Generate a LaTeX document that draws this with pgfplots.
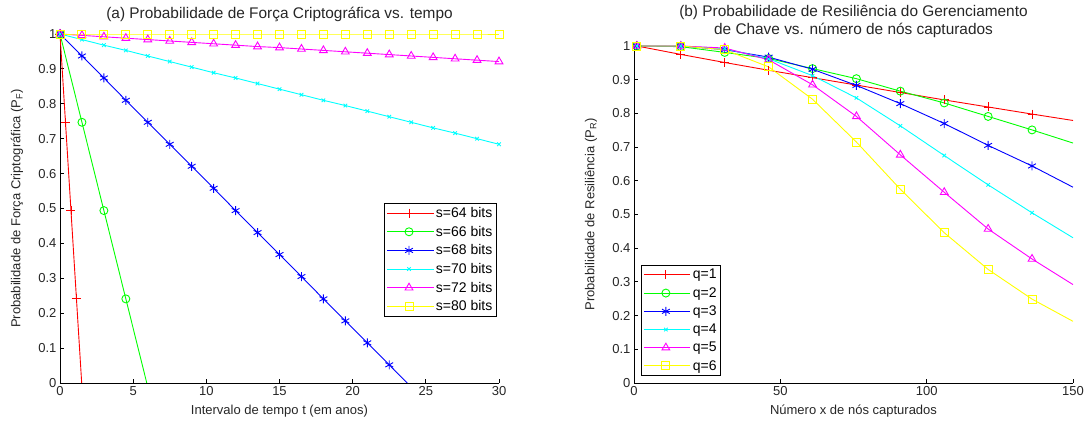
\documentclass[border=0pt]{standalone}
\usepackage{fontspec}
\setmainfont{Liberation Sans}
\usepackage{pgfplots}
\pgfplotsset{compat=1.18}

\definecolor{mred}{rgb}{1,0,0}
\definecolor{mgreen}{rgb}{0,1,0}
\definecolor{mblue}{rgb}{0,0,1}
\definecolor{mcyan}{rgb}{0,1,1}
\definecolor{mmag}{rgb}{1,0,1}
\definecolor{myel}{rgb}{1,1,0}

\pgfplotsset{
  mlab/.style={
    scale only axis,
    axis lines*=left,
    axis line style={black,line width=0.8pt},
    tick align=inside,
    major tick length=4pt,
    tick style={black,line width=0.8pt},
    ymin=0, ymax=1,
    ytick={0,0.1,0.2,0.3,0.4,0.5,0.6,0.7,0.8,0.9,1},
    /pgf/number format/assume math mode=true,
    /pgf/number format/fixed,
    tick label style={font=\fontsize{13}{15}\selectfont, color=black!85},
    label style={font=\fontsize{13}{15}\selectfont, color=black!85},
    every axis plot/.append style={line width=0.9pt},
    legend cell align=left,
    legend style={draw=black, fill=white, line width=0.8pt,
      font=\fontsize{14}{16}\selectfont, inner sep=2pt,
      row sep=3pt},
    legend image code/.code={
      \draw[#1, mark=none] (0pt,0pt) -- (39pt,0pt);
      \draw[#1] plot coordinates {(19.5pt,0pt)};
      \path (-2.5pt,0pt) -- (44pt,0pt);},
  },
}

\begin{document}
\begin{tikzpicture}
\useasboundingbox (0pt,0pt) rectangle (1088pt,423pt);

% (a)
\begin{axis}[mlab,
  at={(60pt,40pt)}, anchor=south west,
  width=439pt, height=349pt,
  xmin=0, xmax=30,
  xtick={0,5,10,15,20,25,30},
  xlabel={Intervalo de tempo t (em anos)},
  xlabel style={at={(axis description cs:0.5,-0.080)}, anchor=center},
  ylabel={Probabilidade de Força Criptográfica (P\textsubscript{F})},
  ylabel style={at={(axis description cs:-0.098,0.5)}, anchor=center},
  legend style={at={(0.995,0.516)}, anchor=north east},
]
\addplot[mred, mark=+, mark size=4.5pt, mark indices={1,2,3,4}] coordinates {
  (0,1) (0.375,0.747) (0.75,0.494) (1.125,0.241) (1.483,0)
};
\addlegendentry{s=64 bits}
\addplot[mgreen, mark=o, mark size=4pt, mark indices={1,2,3,4}] coordinates {
  (0,1) (1.5,0.747) (3,0.494) (4.5,0.241) (5.93,0)
};
\addlegendentry{s=66 bits}
\addplot[mblue, mark=asterisk, mark size=4.5pt,
  mark indices={1,2,3,4,5,6,7,8,9,10,11,12,13,14,15,16}] coordinates {
  (0,1) (1.5,0.937) (3,0.874) (4.5,0.810) (6,0.747) (7.5,0.684)
  (9,0.621) (10.5,0.558) (12,0.494) (13.5,0.431) (15,0.368)
  (16.5,0.305) (18,0.241) (19.5,0.178) (21,0.115) (22.5,0.052)
  (23.73,0)
};
\addlegendentry{s=68 bits}
\addplot[mcyan, mark=x, mark size=2.5pt] coordinates {
  (0,1) (1.5,0.984) (3,0.968) (4.5,0.953) (6,0.937) (7.5,0.921)
  (9,0.905) (10.5,0.889) (12,0.874) (13.5,0.858) (15,0.842)
  (16.5,0.826) (18,0.810) (19.5,0.795) (21,0.779) (22.5,0.763)
  (24,0.747) (25.5,0.731) (27,0.716) (28.5,0.700) (30,0.684)
};
\addlegendentry{s=70 bits}
\addplot[mmag, mark=triangle, mark size=4.5pt] coordinates {
  (0,1) (1.5,0.996) (3,0.992) (4.5,0.988) (6,0.984) (7.5,0.980)
  (9,0.976) (10.5,0.972) (12,0.968) (13.5,0.964) (15,0.961)
  (16.5,0.957) (18,0.953) (19.5,0.949) (21,0.945) (22.5,0.941)
  (24,0.937) (25.5,0.933) (27,0.929) (28.5,0.925) (30,0.921)
};
\addlegendentry{s=72 bits}
\addplot[myel, mark=square, mark size=4pt] coordinates {
  (0,1) (1.5,1) (3,1) (4.5,1) (6,1) (7.5,1) (9,1) (10.5,1) (12,1)
  (13.5,1) (15,1) (16.5,1) (18,1) (19.5,1) (21,1) (22.5,1) (24,1)
  (25.5,1) (27,1) (28.5,1) (30,1)
};
\addlegendentry{s=80 bits}
\end{axis}

% (b)
\begin{axis}[mlab,
  at={(634pt,40pt)}, anchor=south west,
  width=439pt, height=337pt,
  xmin=0, xmax=150,
  xtick={0,50,100,150},
  xlabel={Número x de nós capturados},
  xlabel style={at={(axis description cs:0.5,-0.083)}, anchor=center},
  ylabel={Probabilidade de Resiliência (P\textsubscript{R})},
  ylabel style={at={(axis description cs:-0.098,0.5)}, anchor=center},
  legend style={at={(0.016,0.021)}, anchor=south west},
]
\addplot[mred, mark=+, mark size=4.5pt, mark indices={1,2,3,4,5,6,7,8,9,10}] coordinates {
  (1,1) (16,0.975) (31,0.951) (46,0.928) (61,0.906) (76,0.884)
  (91,0.862) (106,0.840) (121,0.819) (136,0.798) (150,0.779)
};
\addlegendentry{q=1}
\addplot[mgreen, mark=o, mark size=4pt, mark indices={1,2,3,4,5,6,7,8,9,10}] coordinates {
  (1,1) (16,0.998) (31,0.981) (46,0.963) (61,0.933) (76,0.903)
  (91,0.866) (106,0.831) (121,0.791) (136,0.751) (150,0.712)
};
\addlegendentry{q=2}
\addplot[mblue, mark=asterisk, mark size=4.5pt, mark indices={1,2,3,4,5,6,7,8,9,10}] coordinates {
  (1,1) (16,1) (31,0.989) (46,0.967) (61,0.931) (76,0.883)
  (91,0.829) (106,0.770) (121,0.705) (136,0.644) (150,0.581)
};
\addlegendentry{q=3}
\addplot[mcyan, mark=x, mark size=2.5pt, mark indices={1,2,3,4,5,6,7,8,9,10}] coordinates {
  (1,1) (16,1) (31,0.992) (46,0.962) (61,0.912) (76,0.846)
  (91,0.763) (106,0.675) (121,0.588) (136,0.505) (150,0.431)
};
\addlegendentry{q=4}
\addplot[mmag, mark=triangle, mark size=4.5pt, mark indices={1,2,3,4,5,6,7,8,9,10}] coordinates {
  (1,1) (16,1) (31,0.994) (46,0.959) (61,0.885) (76,0.791)
  (91,0.677) (106,0.566) (121,0.457) (136,0.368) (150,0.292)
};
\addlegendentry{q=5}
\addplot[myel, mark=square, mark size=4pt, mark indices={1,2,3,4,5,6,7,8,9,10}] coordinates {
  (1,1) (16,1) (31,0.989) (46,0.938) (61,0.842) (76,0.715)
  (91,0.575) (106,0.446) (121,0.337) (136,0.249) (150,0.183)
};
\addlegendentry{q=6}
\end{axis}

% titles
\node[font=\fontsize{15.4}{18}\selectfont, color=black!85, anchor=center]
  at (279.5pt,409pt) {(a) Probabilidade de Força Criptográfica vs. tempo};
\node[font=\fontsize{15.4}{18}\selectfont, color=black!85, anchor=center, align=center]
  at (853.5pt,402pt) {(b) Probabilidade de Resiliência do Gerenciamento\\de Chave vs. número de nós capturados};
\end{tikzpicture}
\end{document}
